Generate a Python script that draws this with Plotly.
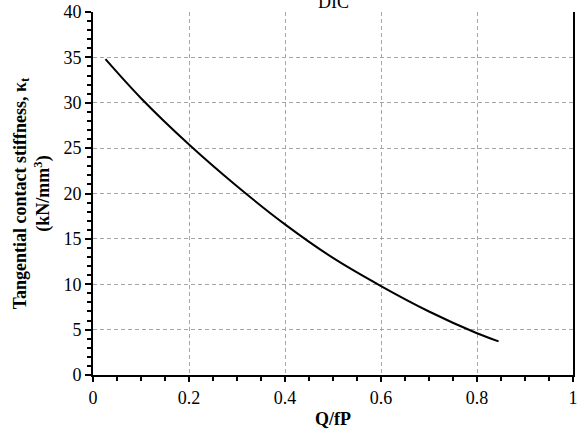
import plotly.graph_objects as go

q_fp = [0.026, 0.1, 0.2, 0.3, 0.4, 0.5, 0.6, 0.7, 0.8, 0.845]
kappa_t = [34.8, 30.5, 25.4, 20.8, 16.6, 12.9, 9.8, 7.0, 4.6, 3.7]

x_ticks = [0, 0.2, 0.4, 0.6, 0.8, 1]
x_ticklabels = ["0", "0.2", "0.4", "0.6", "0.8", "1"]
y_ticks = [0, 5, 10, 15, 20, 25, 30, 35, 40]

FONT = "Liberation Serif"
GRID = "#a6a6a6"

fig = go.Figure()
fig.add_trace(go.Scatter(
    x=q_fp, y=kappa_t, mode="lines",
    line=dict(color="black", width=2, shape="spline", smoothing=1.0),
    showlegend=False,
))

fig.update_layout(
    width=578, height=429,
    margin=dict(l=93, r=5, t=12, b=54, autoexpand=False),
    paper_bgcolor="white", plot_bgcolor="white",
    font=dict(family=FONT, size=18, color="black"),
    annotations=[dict(
        text="DIC", x=0.5, y=1, xref="paper", yref="paper",
        xanchor="center", yanchor="bottom", showarrow=False,
        yshift=-2, font=dict(family=FONT, size=18, color="black"),
    )],
)

fig.update_xaxes(
    range=[0, 1], tickvals=x_ticks, ticktext=x_ticklabels,
    showgrid=True, gridcolor=GRID, griddash="4px,3px", gridwidth=1,
    showline=True, linecolor="black", linewidth=2, mirror=False,
    ticks="outside", ticklen=5, tickwidth=2, tickcolor="black",
    minor=dict(dtick=0.05, ticks="outside", ticklen=4, tickwidth=2,
               tickcolor="black", showgrid=False),
    zeroline=False, automargin=False,
    tickfont=dict(family=FONT, size=18),
    title=dict(text="<b>Q/fP</b>", font=dict(family=FONT, size=18), standoff=6),
)
fig.update_yaxes(
    range=[0, 40], tickvals=y_ticks,
    showgrid=True, gridcolor=GRID, griddash="4px,3px", gridwidth=1,
    showline=True, linecolor="black", linewidth=2, mirror=True,
    ticks="outside", ticklen=6, tickwidth=2, tickcolor="black",
    minor=dict(dtick=1, ticks="outside", ticklen=4, tickwidth=2,
               tickcolor="black", showgrid=False),
    zeroline=False, automargin=False,
    tickfont=dict(family=FONT, size=18),
    title=dict(text="<b>Tangential contact stiffness, κ<sub>t</sub></b><br><b>(kN/mm<sup>3</sup>)</b>",
               font=dict(family=FONT, size=18), standoff=9),
)

fig.write_html("out.html", config={"displayModeBar": False},
               post_script="document.body.style.margin='0';")
